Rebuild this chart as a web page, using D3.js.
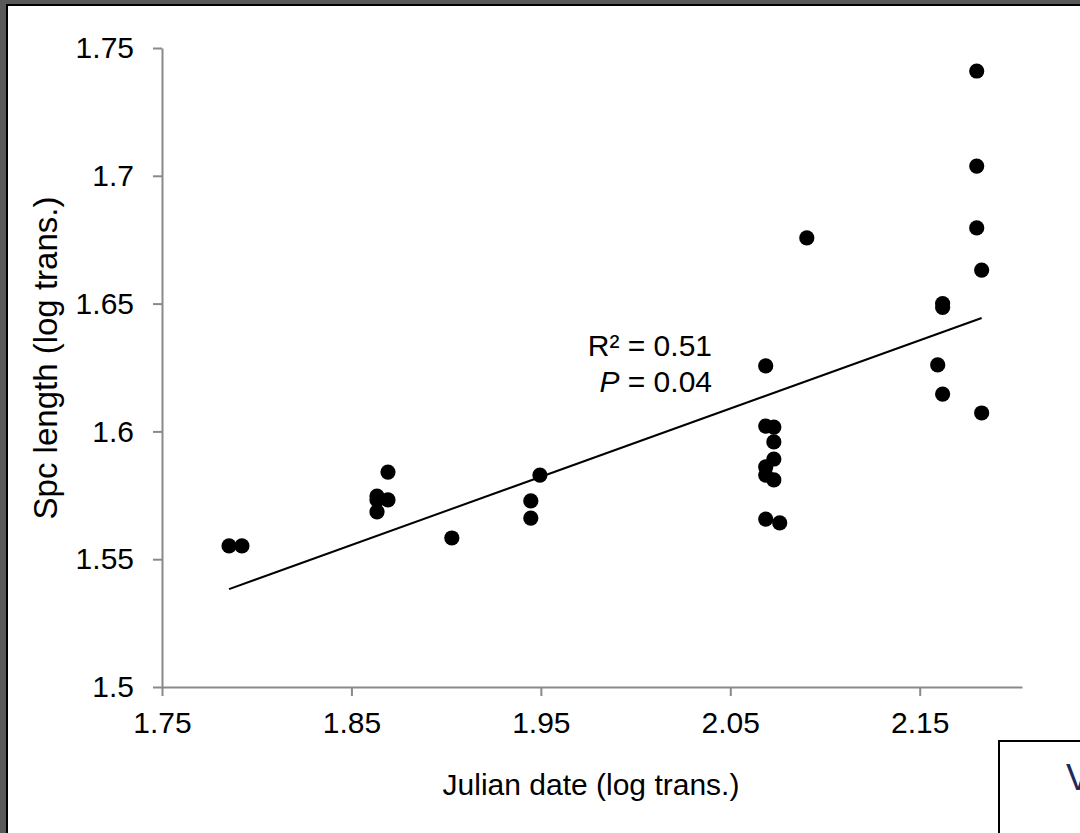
<!DOCTYPE html>
<html>
<head>
<meta charset="utf-8">
<script src="https://cdn.jsdelivr.net/npm/d3@7"></script>
<style>
  html, body { margin: 0; padding: 0; background: #fff; }
  svg { display: block; font-family: Arial, 'Liberation Sans', sans-serif; }
</style>
</head>
<body>
<svg id="chart" width="1080" height="833"></svg>
<script>
// log-transformed julian date vs spc length
const JULIAN = [
  1.7854, 1.7922,
  1.8635, 1.8635, 1.8635, 1.8693, 1.8693,
  1.9030,
  1.9447, 1.9447, 1.9495,
  2.0687, 2.0730, 2.0730, 2.0730, 2.0687, 2.0687, 2.0730, 2.0687, 2.0761, 2.0687,
  2.0904,
  2.1801, 2.1801, 2.1801, 2.1827, 2.1621, 2.1621, 2.1595, 2.1621, 2.1827
]
const SPC = [
  1.5552, 1.5552,
  1.5747, 1.5732, 1.5685, 1.5841, 1.5732,
  1.5583,
  1.5728, 1.5661, 1.5829,
  1.6021, 1.6017, 1.5959, 1.5892, 1.5861, 1.5829, 1.5810, 1.5657, 1.5642, 1.6256,
  1.6757,
  1.7410, 1.7038, 1.6796, 1.6631, 1.6500, 1.6485, 1.6260, 1.6146, 1.6072
]

const X_TICKS = [1.75, 1.85, 1.95, 2.05, 2.15]
const Y_TICKS = [1.5, 1.55, 1.6, 1.65, 1.7, 1.75]
const TREND = { slope: 0.267, intercept: 1.0616 }
const STATS = ['R² = 0.51', 'P = 0.04']

const svg = d3.select('#chart')

// outer frame (left / top edges of the original screenshot)
svg.append('rect').attr('x', 0).attr('y', 0).attr('width', 1080).attr('height', 4).attr('fill', '#595959')
svg.append('rect').attr('x', 0).attr('y', 0).attr('width', 6).attr('height', 833).attr('fill', '#595959')
svg.append('rect').attr('x', 6).attr('y', 4).attr('width', 1074).attr('height', 2).attr('fill', '#000')
svg.append('rect').attr('x', 6).attr('y', 4).attr('width', 2).attr('height', 829).attr('fill', '#000')

const x = d3.scaleLinear().domain([1.75, 2.204]).range([162, 1022])
const y = d3.scaleLinear().domain([1.5, 1.75]).range([687, 48])

const axisColor = '#898989'
const fontSize = 30

const xAxis = svg.append('g')
  .attr('transform', `translate(0,${y(1.5)})`)
  .call(d3.axisBottom(x).tickValues(X_TICKS).tickSize(9).tickSizeOuter(0).tickPadding(16)
    .tickFormat(d3.format('.2f')))
const yAxis = svg.append('g')
  .attr('transform', `translate(${x(1.75)},0)`)
  .call(d3.axisLeft(y).tickValues(Y_TICKS).tickSize(9).tickSizeOuter(0).tickPadding(19)
    .tickFormat(d => String(+d.toFixed(2))))

;[xAxis, yAxis].forEach(g => {
  g.select('.domain').attr('stroke', axisColor).attr('stroke-width', 2)
  g.selectAll('.tick line').attr('stroke', axisColor).attr('stroke-width', 2)
  g.selectAll('.tick text').attr('fill', '#000').style('font-size', fontSize + 'px')
    .style('font-family', 'Arial, Liberation Sans, sans-serif')
})

// trend line over the data range
const [xmin, xmax] = d3.extent(JULIAN)
svg.append('line')
  .attr('x1', x(xmin)).attr('y1', y(TREND.intercept + TREND.slope * xmin))
  .attr('x2', x(xmax)).attr('y2', y(TREND.intercept + TREND.slope * xmax))
  .attr('stroke', '#000').attr('stroke-width', 2)

svg.append('g').selectAll('circle')
  .data(JULIAN.map((d, i) => [d, SPC[i]]))
  .join('circle')
  .attr('cx', d => x(d[0]))
  .attr('cy', d => y(d[1]))
  .attr('r', 7.6)
  .attr('fill', '#000')

// stats label
const st = svg.append('text').attr('text-anchor', 'end').style('font-size', fontSize + 'px')
st.append('tspan').attr('x', 712).attr('y', 356).text(STATS[0])
const p2 = st.append('tspan').attr('x', 712).attr('y', 392)
p2.append('tspan').style('font-style', 'italic').text(STATS[1].slice(0, 1))
p2.append('tspan').text(STATS[1].slice(1))

// axis titles
svg.append('text')
  .attr('x', 591).attr('y', 795)
  .attr('text-anchor', 'middle')
  .style('font-size', fontSize + 'px')
  .text('Julian date (log trans.)')
svg.append('text')
  .attr('transform', 'translate(57,358) rotate(-90)')
  .attr('text-anchor', 'middle')
  .style('font-size', '33px')
  .text('Spc length (log trans.)')

// cut-off box at lower right
svg.append('rect')
  .attr('x', 999).attr('y', 741).attr('width', 100).attr('height', 120)
  .attr('fill', '#fff').attr('stroke', '#000').attr('stroke-width', 2)
svg.append('text')
  .attr('x', 1066).attr('y', 790)
  .style('font-size', '36px').attr('fill', '#1f2a5c')
  .text('V')
</script>
</body>
</html>
